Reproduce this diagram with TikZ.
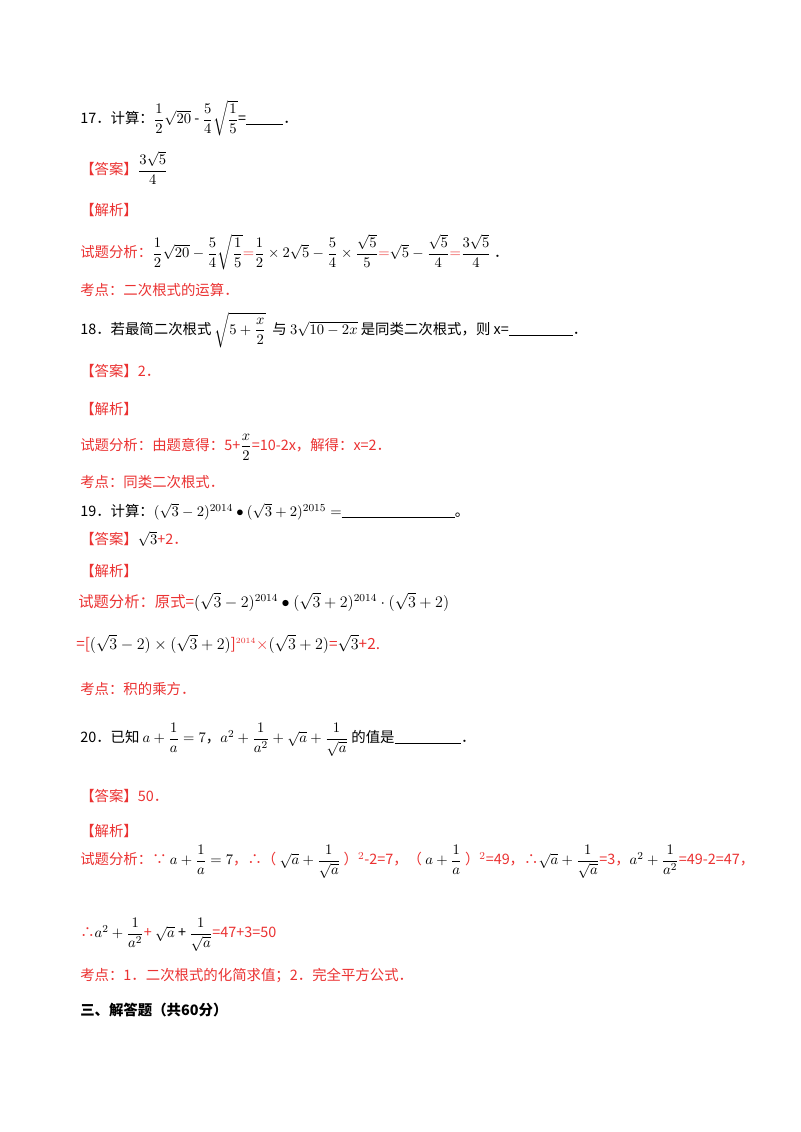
\documentclass[tikz,border=0pt]{standalone}
\usepackage{amsmath}
\usepackage{fontspec}
\setmainfont{Noto Sans CJK SC}
\definecolor{rd}{RGB}{235,50,50}
\newcommand{\bl}[1]{\rule[-1pt]{#1}{0.6pt}}
\begin{document}
\begin{tikzpicture}[x=0.75pt,y=-0.75pt,
  t/.style={anchor=west,inner sep=0pt,font=\fontsize{10.8}{12}\selectfont},
  r/.style={t,text=rd}]
\useasboundingbox (0,0) rectangle (800,1132);
\fill[white] (0,0) rectangle (800,1132);
\node[t] (q17) at (80,118) {17．计算：$\dfrac{1}{2}\sqrt{20}$ - $\dfrac{5}{4}\sqrt{\dfrac{1}{5}}$=\bl{28pt}．};
\node[r] (a17) at (80,168) {【答案】$\color{black}\dfrac{3\sqrt5}{4}$};
\node[r] (j17) at (80,210) {【解析】};
\node[r] (s17) at (80,252) {试题分析：\color{black}$\dfrac12\sqrt{20}-\dfrac54\sqrt{\dfrac15}\textcolor{rd}{=}\dfrac12\times2\sqrt5-\dfrac54\times\dfrac{\sqrt5}{5}\textcolor{rd}{=}\sqrt5-\dfrac{\sqrt5}{4}\textcolor{rd}{=}\dfrac{3\sqrt5}{4}$ ．};
\node[r] (k17) at (80,290) {考点：二次根式的运算．};
\node[t] (q18) at (80,330) {18．若最简二次根式 $\sqrt{5+\dfrac{x}{2}}$ \ 与 $3\sqrt{10-2x}$ 是同类二次根式，则 x=\bl{48pt}．};
\node[r] (a18) at (80,371) {【答案】2．};
\node[r] (j18) at (80,409) {【解析】};
\node[r] (s18) at (80,447) {试题分析：由题意得：5+$\color{black}\dfrac{x}{2}$=10-2x，解得：x=2．};
\node[r] (k18) at (80,482) {考点：同类二次根式．};
\node[t] (q19) at (80,512) {19．计算：$(\sqrt3-2)^{2014}\bullet(\sqrt3+2)^{2015}=$\bl{85pt}。};
\node[r] (a19) at (80,539) {【答案】\color{black}$\sqrt3$\color{rd}+2．};
\node[r] (j19) at (80,571) {【解析】};
\node[r,font=\fontsize{11.5}{13}\selectfont] (s19) at (78,602) {试题分析：原式=\color{black}$(\sqrt3-2)^{2014}\bullet(\sqrt3+2)^{2014}\cdot(\sqrt3+2)$};
\node[r,font=\fontsize{11.5}{13}\selectfont] (s19b) at (76,644) {=[\color{black}$(\sqrt3-2)\times(\sqrt3+2)$\color{rd}]$^{\scriptscriptstyle 2014}\times$\color{black}$(\sqrt3+2)$\color{rd}=\color{black}$\sqrt3$\color{rd}+2.};
\node[r] (k19) at (80,689) {考点：积的乘方．};
\node[t] (q20) at (80,740) {20．已知 $a+\dfrac1a=7$，$a^2+\dfrac1{a^2}+\sqrt a+\dfrac1{\sqrt a}$ 的值是\bl{50pt}．};
\node[r] (a20) at (80,796) {【答案】50．};
\node[r] (j20) at (80,831) {【解析】};
\node[r] (s20) at (80,862) {试题分析：∵ \color{black}$a+\dfrac1a=7$\color{rd}，∴（ \color{black}$\sqrt a+\dfrac1{\sqrt a}$ \color{rd}）$^2$-2=7，（ \color{black}$a+\dfrac1a$ \color{rd}）$^2$=49，∴\color{black}$\sqrt a+\dfrac1{\sqrt a}$\color{rd}=3，\color{black}$a^2+\dfrac1{a^2}$\color{rd}=49-2=47，};
\node[r] (s20b) at (80,935) {∴\color{black}$a^2+\dfrac1{a^2}$\color{rd}+ \color{black}$\sqrt a$ + $\dfrac{1}{\sqrt a}$\color{rd} =47+3=50};
\node[r] (k20) at (80,976) {考点：1．二次根式的化简求值；2．完全平方公式．};
\node[t,font=\fontsize{10.8}{12}\selectfont\bfseries] (sec) at (80,1010) {三、解答题（共60分）};
\end{tikzpicture}
\end{document}
